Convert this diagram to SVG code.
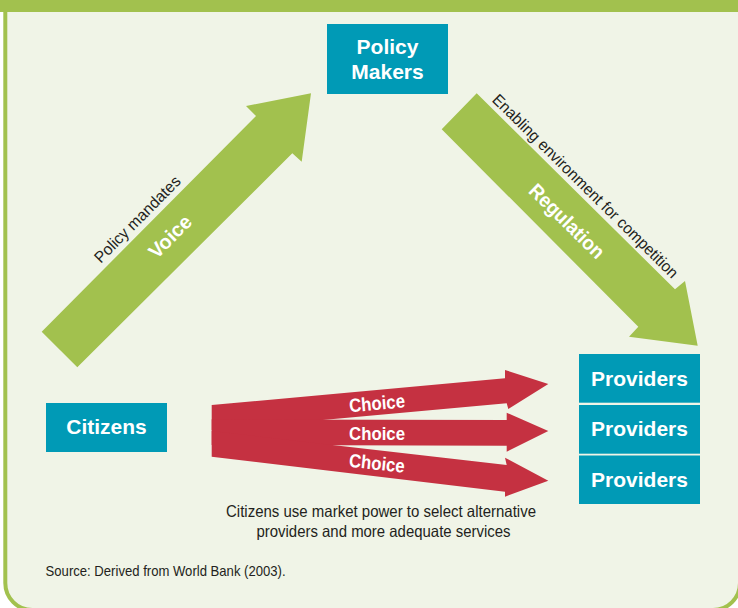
<svg xmlns="http://www.w3.org/2000/svg" width="738" height="608" viewBox="0 0 738 608">
<style>
.box{fill:#009ab6}
.bt{font-family:"Liberation Sans",Arial,sans-serif;font-weight:bold;font-size:21px;fill:#ffffff;text-anchor:middle}
.green{fill:#a2c14e}
.red{fill:#c53141}
.wl{font-family:"Liberation Sans",Arial,sans-serif;font-weight:bold;fill:#ffffff;text-anchor:middle}
.dl{font-family:"Liberation Sans",Arial,sans-serif;fill:#231f20;text-anchor:middle}
</style>
<rect x="0" y="0" width="738" height="608" fill="#ffffff"/>
<rect x="5.3" y="-20" width="734.7" height="630" rx="27" ry="27" fill="#f0f4e7" stroke="#a2c14e" stroke-width="4"/>
<rect x="0" y="0" width="738" height="12" fill="#a2c14e"/>

<g id="connectors">
  <g id="voice">
    <polygon class="green" points="41.7,331.7 256,116 246,106 311,93.3 301.7,161.7 292.3,153.3 77.3,367.3"/>
    <text class="dl" font-size="16" textLength="115" lengthAdjust="spacingAndGlyphs" transform="translate(141.2,223.1) rotate(-45.2)">Policy mandates</text>
    <text class="wl" font-size="20" y="7" transform="translate(170,236.5) rotate(-45.2)">Voice</text>
  </g>
  <g id="regulation">
    <polygon class="green" points="476.7,93.3 675,289.3 685,281 697.7,345.7 629,336.7 638.3,326.7 441.7,129.3"/>
    <text class="dl" font-size="16" textLength="254" lengthAdjust="spacingAndGlyphs" transform="translate(581.6,189.9) rotate(44.66)">Enabling environment for competition</text>
    <text class="wl" font-size="20" y="7" textLength="97" lengthAdjust="spacingAndGlyphs" transform="translate(567,221) rotate(44.66)">Regulation</text>
  </g>
  <g id="choice">
    <polygon class="red" points="211.7,405 505,378.3 505,370 548.3,384 508.3,409 506.7,403.3 211.7,430.2"/>
    <polygon class="red" points="211.7,419.3 506.7,420 506.7,412.7 548.3,431 506.7,451.7 506.7,445.7 211.7,445"/>
    <polygon class="red" points="211.7,431 506.7,465 505,457.7 548.3,480.7 505,496.7 505,491.7 211.7,456.7"/>
    <text class="wl" font-size="19" y="6.5" textLength="56" lengthAdjust="spacingAndGlyphs" transform="translate(377,403.3) rotate(-5.2)">Choice</text>
    <text class="wl" font-size="19" y="6.5" textLength="56" lengthAdjust="spacingAndGlyphs" transform="translate(377,433)">Choice</text>
    <text class="wl" font-size="19" y="6.5" textLength="56" lengthAdjust="spacingAndGlyphs" transform="translate(377,463.3) rotate(6)">Choice</text>
  </g>
</g>

<g id="policy-makers">
  <rect class="box" x="327" y="24" width="121" height="70"/>
  <text class="bt" x="387.5" y="54">Policy</text>
  <text class="bt" x="387.5" y="79">Makers</text>
</g>
<g id="citizens">
  <rect class="box" x="46" y="403" width="121" height="49"/>
  <text class="bt" x="106.5" y="433.5">Citizens</text>
</g>
<g id="providers-1">
  <rect class="box" x="579" y="354" width="121" height="48.7"/>
  <text class="bt" x="639.5" y="386">Providers</text>
</g>
<g id="providers-2">
  <rect class="box" x="579" y="405" width="121" height="48.7"/>
  <text class="bt" x="639.5" y="436">Providers</text>
</g>
<g id="providers-3">
  <rect class="box" x="579" y="455.5" width="121" height="48.5"/>
  <text class="bt" x="639.5" y="486.7">Providers</text>
</g>

<g id="caption">
  <text class="dl" font-size="16.5" x="381" y="516.7" textLength="310" lengthAdjust="spacingAndGlyphs">Citizens use market power to select alternative</text>
  <text class="dl" font-size="16.5" x="383.5" y="536.7" textLength="254" lengthAdjust="spacingAndGlyphs">providers and more adequate services</text>
  <text font-family="'Liberation Sans',Arial,sans-serif" fill="#231f20" font-size="14.5" x="45.6" y="576" textLength="240" lengthAdjust="spacingAndGlyphs">Source: Derived from World Bank (2003).</text>
</g>
</svg>
